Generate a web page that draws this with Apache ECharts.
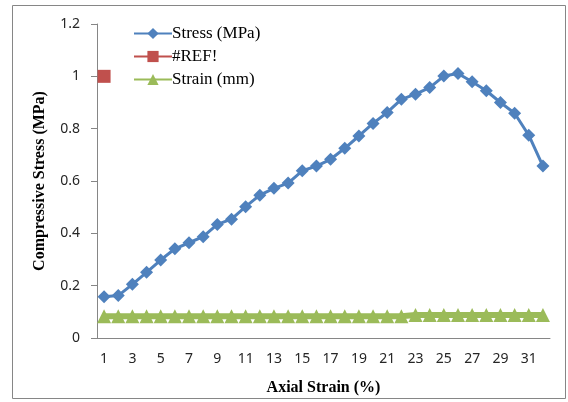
<!DOCTYPE html>
<html>
<head>
<meta charset="utf-8">
<script src="https://cdn.jsdelivr.net/npm/echarts@6/dist/echarts.min.js"></script>
<style>
  html, body { margin: 0; padding: 0; background: #fff; }
  #chart { width: 568px; height: 402px; }
</style>
</head>
<body>
<div id="chart"></div>
<script>
// Axial strain categories (%)
const strainCategories = ['1','2','3','4','5','6','7','8','9','10','11','12','13','14','15','16',
  '17','18','19','20','21','22','23','24','25','26','27','28','29','30','31','32'];

// Compressive stress (MPa) at each strain step
const stressValues = [0.158, 0.162, 0.205, 0.251, 0.298, 0.341, 0.364, 0.387, 0.434, 0.454,
  0.502, 0.546, 0.572, 0.592, 0.639, 0.657, 0.683, 0.725, 0.772, 0.820, 0.862, 0.912,
  0.932, 0.957, 1.001, 1.011, 0.979, 0.945, 0.900, 0.859, 0.775, 0.657];

// Broken-reference series: a single point
const refValues = [1.0];

// Strain (mm)
const strainMm = [0.083, 0.083, 0.083, 0.083, 0.083, 0.083, 0.083, 0.083, 0.083, 0.083,
  0.083, 0.083, 0.083, 0.083, 0.083, 0.083, 0.083, 0.083, 0.083, 0.083, 0.083, 0.083,
  0.088, 0.088, 0.088, 0.088, 0.088, 0.088, 0.088, 0.088, 0.088, 0.088];

const yTicks = { min: 0, max: 1.2, interval: 0.2 };

const serif = '"Liberation Serif", "Times New Roman", serif';
const sans = '"Noto Sans", "Open Sans", sans-serif';
const axisGray = '#868686';

const chart = echarts.init(document.getElementById('chart'), null, { renderer: 'canvas' });

chart.setOption({
  animation: false,
  backgroundColor: '#ffffff',
  graphic: [{
    type: 'rect',
    shape: { x: 12.5, y: 5.5, width: 553, height: 393 },
    style: { fill: 'none', stroke: axisGray, lineWidth: 1 },
    silent: true,
    z: -1
  }],
  grid: { left: 97, right: 18, top: 24, bottom: 64, containLabel: false },
  legend: {
    orient: 'vertical',
    left: 133,
    top: 25,
    padding: 0,
    itemWidth: 38,
    itemHeight: 14,
    itemGap: 6,
    textStyle: { fontFamily: serif, fontSize: 17, color: '#000', padding: [0, 0, 0, -5] },
    data: ['Stress (MPa)', '#REF!', 'Strain (mm)']
  },
  xAxis: {
    type: 'category',
    data: strainCategories,
    boundaryGap: true,
    name: 'Axial Strain (%)',
    nameLocation: 'middle',
    nameGap: 42,
    nameTextStyle: { fontFamily: serif, fontSize: 16, fontWeight: 'bold', color: '#000' },
    axisLine: { lineStyle: { color: axisGray, width: 1 } },
    axisTick: { show: false },
    axisLabel: { interval: 1, margin: 14, fontFamily: sans, fontSize: 14, color: '#262626' },
    splitLine: { show: false }
  },
  yAxis: {
    type: 'value',
    min: yTicks.min,
    max: yTicks.max,
    interval: yTicks.interval,
    name: 'Compressive Stress (MPa)',
    nameLocation: 'middle',
    nameGap: 49,
    nameTextStyle: { fontFamily: serif, fontSize: 16, fontWeight: 'bold', color: '#000' },
    axisLine: { show: true, lineStyle: { color: axisGray, width: 1 } },
    axisTick: { show: true, length: 6, lineStyle: { color: axisGray } },
    axisLabel: {
      margin: 17, fontFamily: sans, fontSize: 14, color: '#262626',
      formatter: v => (Math.round(v * 10) / 10).toString()
    },
    splitLine: { show: false }
  },
  series: [
    {
      name: 'Stress (MPa)',
      type: 'line',
      data: stressValues,
      symbol: 'diamond',
      symbolSize: 13,
      showAllSymbol: true,
      lineStyle: { color: '#4F81BD', width: 3 },
      itemStyle: { color: '#4F81BD' },
      z: 3
    },
    {
      name: '#REF!',
      type: 'line',
      data: refValues,
      symbol: 'rect',
      symbolSize: 13,
      lineStyle: { color: '#C0504D', width: 3 },
      itemStyle: { color: '#C0504D' },
      z: 3
    },
    {
      name: 'Strain (mm)',
      type: 'line',
      data: strainMm,
      symbol: 'triangle',
      symbolSize: 14,
      showAllSymbol: true,
      lineStyle: { color: '#9BBB59', width: 6 },
      itemStyle: { color: '#9BBB59' },
      z: 2
    }
  ]
});
</script>
</body>
</html>
